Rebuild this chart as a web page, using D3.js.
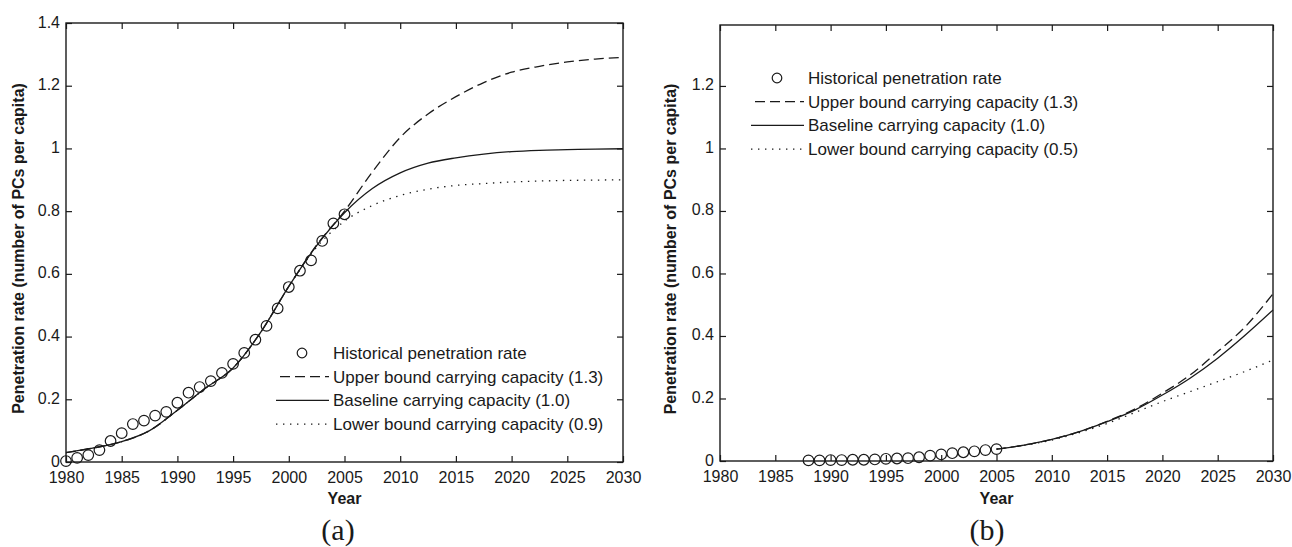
<!DOCTYPE html>
<html>
<head>
<meta charset="utf-8">
<script src="https://cdn.jsdelivr.net/npm/d3@7"></script>
<style>
body { margin: 0; background: #fff; }
svg text { font-family: "Liberation Sans", Arial, sans-serif; fill: #1a1a1a; }
</style>
</head>
<body>
<script>
// panel (a): historical penetration rate
var histYearsA = [1980, 1981, 1982, 1983, 1984, 1985, 1986, 1987, 1988, 1989, 1990, 1991, 1992,
  1993, 1994, 1995, 1996, 1997, 1998, 1999, 2000, 2001, 2002, 2003, 2004, 2005];
var histValuesA = [0.003, 0.013, 0.022, 0.038, 0.067, 0.092, 0.121, 0.132, 0.148, 0.16, 0.189, 0.221, 0.239,
  0.258, 0.284, 0.313, 0.348, 0.39, 0.434, 0.49, 0.558, 0.61, 0.643, 0.705, 0.761, 0.79];

// panel (a): model curves
var curveYearsA = [1980, 1982.5, 1985, 1987.5, 1990, 1992.5, 1995, 1997.5, 2000, 2002.5, 2005,
  2007.5, 2010, 2012.5, 2015, 2017.5, 2020, 2022.5, 2025, 2027.5, 2030];
var upperA = [0.03, 0.045, 0.065, 0.10, 0.165, 0.235, 0.30, 0.415, 0.56, 0.692, 0.80,
  0.925, 1.035, 1.11, 1.165, 1.21, 1.243, 1.262, 1.276, 1.285, 1.29];
var baseA = [0.03, 0.045, 0.065, 0.10, 0.165, 0.235, 0.30, 0.415, 0.56, 0.69, 0.795,
  0.872, 0.922, 0.953, 0.97, 0.982, 0.99, 0.994, 0.996, 0.998, 0.999];
var lowerA = [0.03, 0.045, 0.065, 0.10, 0.165, 0.235, 0.30, 0.415, 0.56, 0.685, 0.768,
  0.818, 0.85, 0.87, 0.882, 0.888, 0.893, 0.896, 0.898, 0.899, 0.9];

// panel (b): historical penetration rate
var histYearsB = [1988, 1989, 1990, 1991, 1992, 1993, 1994, 1995, 1996, 1997, 1998, 1999, 2000,
  2001, 2002, 2003, 2004, 2005];
var histValuesB = [0.002, 0.002, 0.003, 0.003, 0.004, 0.004, 0.005, 0.007, 0.008, 0.009, 0.012, 0.017, 0.021,
  0.025, 0.028, 0.031, 0.035, 0.038];

// panel (b): model curves
var curveYearsB = [2005, 2007.5, 2010, 2012.5, 2015, 2017.5, 2020, 2022.5, 2025, 2027.5, 2030];
var upperB = [0.038, 0.051, 0.069, 0.094, 0.127, 0.166, 0.217, 0.275, 0.35, 0.43, 0.535];
var baseB = [0.038, 0.051, 0.069, 0.094, 0.126, 0.163, 0.211, 0.265, 0.329, 0.403, 0.483];
var lowerB = [0.038, 0.05, 0.067, 0.091, 0.12, 0.155, 0.19, 0.222, 0.254, 0.287, 0.323];

// ticks and labels
var xTicks = [1980, 1985, 1990, 1995, 2000, 2005, 2010, 2015, 2020, 2025, 2030];
var yTicksA = [0, 0.2, 0.4, 0.6, 0.8, 1, 1.2, 1.4];
var yTicksB = [0, 0.2, 0.4, 0.6, 0.8, 1, 1.2];
var legendA = ["Historical penetration rate", "Upper bound carrying capacity (1.3)",
  "Baseline carrying capacity (1.0)", "Lower bound carrying capacity (0.9)"];
var legendB = ["Historical penetration rate", "Upper bound carrying capacity (1.3)",
  "Baseline carrying capacity (1.0)", "Lower bound carrying capacity (0.5)"];
var yTitle = "Penetration rate (number of PCs per capita)";
var xTitle = "Year";

var W = 1292, H = 547;
var ink = "#1a1a1a";
var dashes = ["10,5", null, "1.4,5.6"];

var svg = d3.select("body")
  .append("svg")
  .attr("width", W)
  .attr("height", H);

function panel(p) {
  var x = d3.scaleLinear().domain([1980, 2030]).range([p.left, p.right]);
  var y = d3.scaleLinear().domain([0, p.ymax]).range([p.bottom, p.top]);
  var g = svg.append("g");
  var fmt = d3.format("~g");

  // axes with inward ticks, box on all four sides
  var xb = g.append("g")
    .attr("transform", "translate(0," + p.bottom + ")")
    .call(d3.axisBottom(x).tickValues(xTicks).tickFormat(d3.format("d")).tickSize(-6).tickPadding(10));
  g.append("g")
    .attr("transform", "translate(0," + p.top + ")")
    .call(d3.axisTop(x).tickValues(xTicks).tickFormat("").tickSize(-6));
  var yl = g.append("g")
    .attr("transform", "translate(" + p.left + ",0)")
    .call(d3.axisLeft(y).tickValues(p.yTicks).tickFormat(fmt).tickSize(-6).tickPadding(6));
  g.append("g")
    .attr("transform", "translate(" + p.right + ",0)")
    .call(d3.axisRight(y).tickValues(p.yTicks).tickFormat("").tickSize(-6));

  g.selectAll(".domain").remove();
  g.selectAll(".tick line").attr("stroke", ink).attr("stroke-width", 1.2);
  g.selectAll(".tick text").attr("font-size", 16).attr("fill", ink)
    .attr("font-family", "'Liberation Sans', Arial, sans-serif");
  yl.selectAll(".tick text").attr("dy", "0.25em");

  g.append("rect")
    .attr("x", p.left).attr("y", p.top)
    .attr("width", p.right - p.left).attr("height", p.bottom - p.top)
    .attr("fill", "none").attr("stroke", ink).attr("stroke-width", 1.4);

  // model curves
  var line = d3.line()
    .x(function(d) { return x(d[0]); })
    .y(function(d) { return y(d[1]); })
    .curve(d3.curveMonotoneX);
  p.curves.forEach(function(c, i) {
    g.append("path")
      .datum(p.curveYears.map(function(yr, j) { return [yr, c[j]]; }))
      .attr("d", line)
      .attr("fill", "none")
      .attr("stroke", ink)
      .attr("stroke-width", 1.3)
      .attr("stroke-dasharray", dashes[i]);
  });

  // historical points
  g.selectAll("circle.hist")
    .data(p.histYears)
    .enter()
    .append("circle")
    .attr("class", "hist")
    .attr("cx", function(d) { return x(d); })
    .attr("cy", function(d, i) { return y(p.histValues[i]); })
    .attr("r", 5.3)
    .attr("fill", "none")
    .attr("stroke", ink)
    .attr("stroke-width", 1.2);

  // legend
  var lg = g.append("g").attr("transform", "translate(" + p.legX + "," + p.legY + ")");
  lg.append("circle").attr("cx", -31).attr("cy", 0).attr("r", 4.8)
    .attr("fill", "none").attr("stroke", ink).attr("stroke-width", 1.2);
  [0, 1, 2].forEach(function(i) {
    lg.append("line")
      .attr("x1", i === 0 ? -53 : -57).attr("x2", -4)
      .attr("y1", 23.7 * (i + 1)).attr("y2", 23.7 * (i + 1))
      .attr("stroke", ink).attr("stroke-width", 1.3)
      .attr("stroke-dasharray", dashes[i]);
  });
  lg.selectAll("text")
    .data(p.legend)
    .enter()
    .append("text")
    .attr("x", 0)
    .attr("y", function(d, i) { return 23.7 * i; })
    .attr("dy", "0.35em")
    .attr("font-size", 17)
    .text(function(d) { return d; });

  // titles
  g.append("text")
    .attr("transform", "translate(" + p.yTitleX + "," + ((p.top + p.bottom) / 2 + 6) + ") rotate(-90)")
    .attr("text-anchor", "middle")
    .attr("font-size", 16)
    .attr("font-weight", "bold")
    .text(yTitle);
  g.append("text")
    .attr("x", (p.left + p.right) / 2)
    .attr("y", 504)
    .attr("text-anchor", "middle")
    .attr("font-size", 16)
    .attr("font-weight", "bold")
    .text(xTitle);
  g.append("text")
    .attr("x", p.capX)
    .attr("y", 540)
    .attr("text-anchor", "middle")
    .attr("font-size", 30)
    .style("font-family", "'Liberation Serif', 'Times New Roman', serif")
    .text(p.caption);
}

panel({
  left: 66, right: 623, top: 23, bottom: 462, ymax: 1.4, yTicks: yTicksA,
  curveYears: curveYearsA, curves: [upperA, baseA, lowerA],
  histYears: histYearsA, histValues: histValuesA,
  legend: legendA, legX: 333, legY: 353, yTitleX: 24, capX: 338, caption: "(a)"
});

panel({
  left: 720, right: 1273, top: 25, bottom: 461, ymax: 1.395, yTicks: yTicksB,
  curveYears: curveYearsB, curves: [upperB, baseB, lowerB],
  histYears: histYearsB, histValues: histValuesB,
  legend: legendB, legX: 808, legY: 78, yTitleX: 676, capX: 987, caption: "(b)"
});
</script>
</body>
</html>
